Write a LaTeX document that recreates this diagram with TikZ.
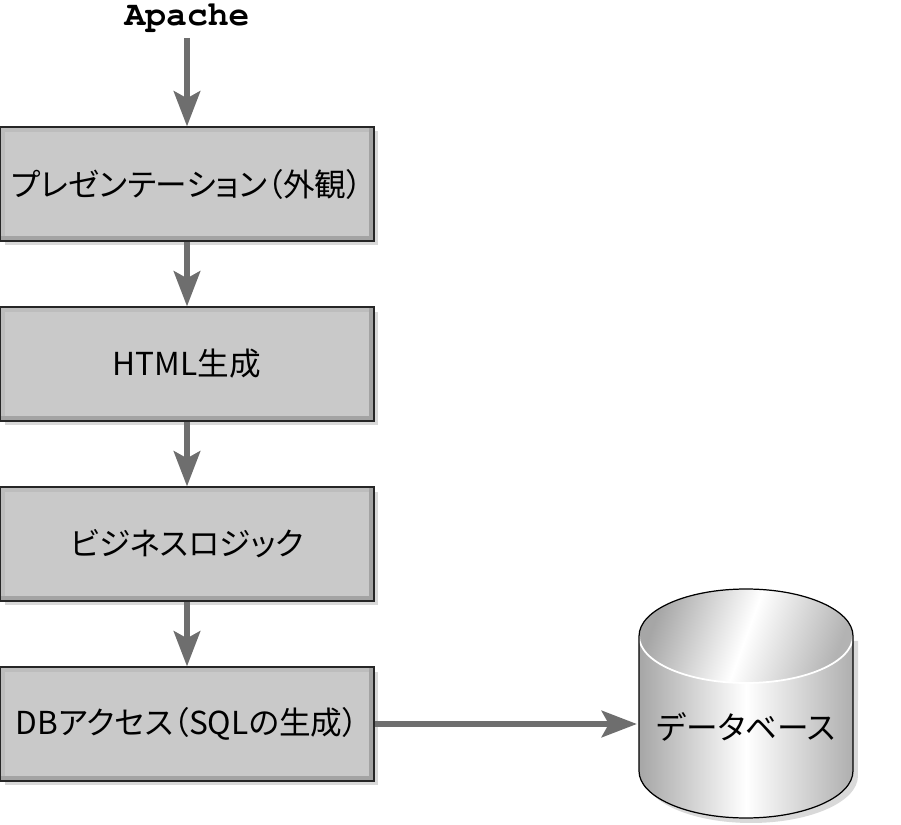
\documentclass[tikz,border=0pt]{standalone}
\usepackage{fontspec}
\newfontfamily\jpfont[RawFeature=+palt]{Noto Sans CJK JP}
\newfontfamily\apachefont{TeX Gyre Cursor}
\usepackage{xcolor}
\usepackage{tikz}
\usetikzlibrary{arrows.meta, positioning, shadows}

\definecolor{boxgray}{HTML}{C9C9C9}
\definecolor{bevellight}{HTML}{BDBDBD}
\definecolor{beveldark}{HTML}{A3A3A3}
\definecolor{arrowgray}{HTML}{6E6E6E}
\definecolor{cylgray}{HTML}{A6A6A6}

\begin{document}
\begin{tikzpicture}[x=0.02cm, y=0.02cm,
  layer/.style={draw=black!85, line width=0.7pt, fill=boxgray,
    minimum width=7.48cm, minimum height=2.28cm, inner sep=0pt,
    font=\jpfont\fontsize{18}{22}\selectfont,
    drop shadow={shadow xshift=0.09cm, shadow yshift=-0.09cm, fill=black!15, opacity=1},
    path picture={
      \fill[bevellight] (path picture bounding box.south west) rectangle ([xshift=0.1cm]path picture bounding box.north west);
      \fill[bevellight] (path picture bounding box.north west) rectangle ([yshift=-0.1cm]path picture bounding box.north east);
      \fill[beveldark] (path picture bounding box.south east) rectangle ([xshift=-0.1cm]path picture bounding box.north east);
      \fill[beveldark] (path picture bounding box.south west) rectangle ([yshift=0.1cm]path picture bounding box.south east);
    }},
  flow/.style={draw=arrowgray, line width=3.4pt, -{Stealth[length=20pt, width=15pt, inset=4pt]}}]
  \useasboundingbox (0,0) rectangle (901,824);

  \node[font=\apachefont\bfseries\fontsize{19.7}{22}\selectfont, inner sep=3pt] (apache) at (187,806) {Apache};
  \node[layer] (pres) at (187,640) {プレゼンテーション（外観）};
  \node[layer] (html) at (187,460) {HTML生成};
  \node[layer] (logic) at (187,280) {ビジネスロジック};
  \node[layer] (dbacc) at (187,100) {DBアクセス（SQLの生成）};

  \fill[black!15] (644,183) -- (644,48) arc[start angle=180, end angle=360, x radius=2.14cm, y radius=0.94cm] -- (858,183) -- cycle;
  \shade[left color=cylgray, right color=cylgray!90, middle color=white] (639,188) -- (639,53) arc[start angle=180, end angle=360, x radius=2.14cm, y radius=0.94cm] -- (853,188) -- cycle;
  \shade[left color=cylgray, right color=cylgray!85, middle color=white, shading angle=70] (746,188) ellipse[x radius=2.14cm, y radius=0.94cm];
  \draw[white, line width=1pt] (639,188) arc[start angle=180, end angle=360, x radius=2.14cm, y radius=0.94cm];
  \draw[black, line width=0.7pt] (639,188) -- (639,53) arc[start angle=180, end angle=360, x radius=2.14cm, y radius=0.94cm] -- (853,188) arc[start angle=0, end angle=180, x radius=2.14cm, y radius=0.94cm];
  \node[font=\jpfont\fontsize{18}{22}\selectfont, minimum width=4.28cm, minimum height=2cm, inner sep=0pt] (db) at (746,97) {データベース};

  \draw[flow] (apache) -- (pres);
  \draw[flow] (pres) -- (html);
  \draw[flow] (html) -- (logic);
  \draw[flow] (logic) -- (dbacc);
  \draw[flow, shorten >=1pt] (dbacc.east) -- (dbacc.east -| db.west);
\end{tikzpicture}
\end{document}
